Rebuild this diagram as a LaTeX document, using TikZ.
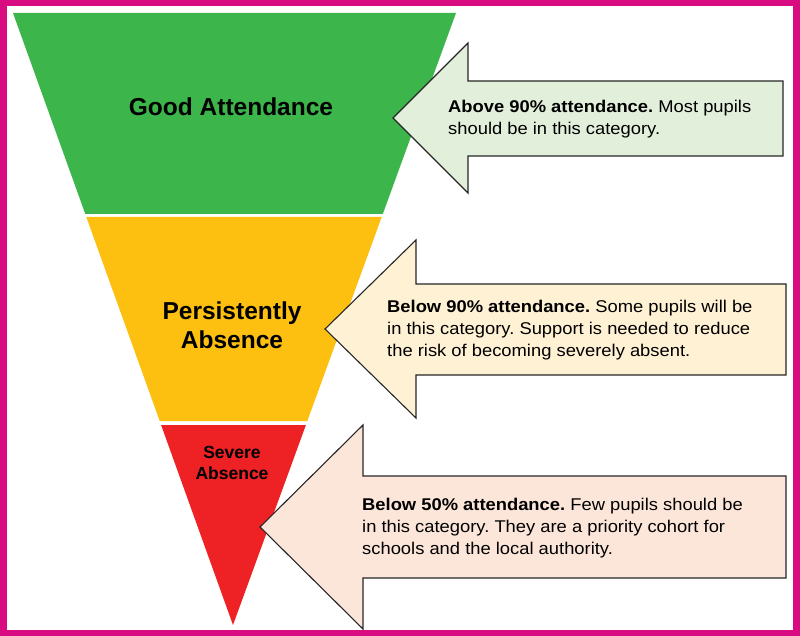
\documentclass[tikz,border=0pt]{standalone}
\usepackage{fontspec}
\setmainfont{Liberation Sans}
\newfontfamily\notefont[FakeStretch=1.08]{Liberation Sans}
\usepackage{tikz}
\pgfdeclarelayer{edgelayer}
\pgfdeclarelayer{nodelayer}
\pgfsetlayers{edgelayer,nodelayer,main}
\definecolor{framepink}{HTML}{D80B80}
\definecolor{goodgreen}{HTML}{3CB54A}
\definecolor{persistyellow}{HTML}{FDC010}
\definecolor{severered}{HTML}{EE2124}
\definecolor{greenpale}{HTML}{E2EFDA}
\definecolor{yellowpale}{HTML}{FFF1D4}
\definecolor{redpale}{HTML}{FCE6DA}
\tikzstyle{none}=[inner sep=0pt]
\tikzstyle{band}=[draw=none]
\tikzstyle{callout}=[draw=black!85, line width=1.1pt, line join=miter]
\tikzstyle{title}=[inner sep=0pt, align=center, font=\bfseries\fontsize{24.5}{29}\selectfont]
\tikzstyle{subtitle}=[inner sep=0pt, align=center, font=\bfseries\fontsize{17.5}{21}\selectfont]
\tikzstyle{note}=[inner sep=0pt, align=left, anchor=west, font=\notefont\frenchspacing\fontsize{17}{22}\selectfont]
\begin{document}
\begin{tikzpicture}[x=1pt, y=-1pt]
	\useasboundingbox (0, 0) rectangle (800, 636);
	\begin{pgfonlayer}{nodelayer}
		\node [style=title] (0) at (231, 107) {Good Attendance};
		\node [style=title] (1) at (232, 325) {Persistently\\Absence};
		\node [style=subtitle] (2) at (232, 463) {Severe\\Absence};
		\node [style=note] (3) at (448, 119) {\textbf{Above 90\% attendance.} Most pupils\\should be in this category.};
		\node [style=note] (4) at (387, 330) {\textbf{Below 90\% attendance.} Some pupils will be\\in this category. Support is needed to reduce\\the risk of becoming severely absent.};
		\node [style=note] (5) at (362, 528) {\textbf{Below 50\% attendance.} Few pupils should be\\in this category. They are a priority cohort for\\schools and the local authority.};
	\end{pgfonlayer}
	\begin{pgfonlayer}{edgelayer}
		% frame
		\fill [framepink] (0, 0) rectangle (800, 636);
		\fill [white] (7, 6) rectangle (793, 630);
		% funnel
		\fill [style=band, goodgreen] (13, 13) -- (456, 13) -- (382.8, 214) -- (85.3, 214) -- cycle;
		\fill [style=band, persistyellow] (86.3, 217) -- (381.7, 217) -- (307.3, 421) -- (159.7, 421) -- cycle;
		\fill [style=band, severered] (161.1, 425) -- (305.9, 425) -- (233, 625) -- cycle;
		% arrows
		\draw [style=callout, fill=greenpale] (393, 118) -- (468, 43) -- (468, 81) -- (783, 81) -- (783, 156) -- (468, 156) -- (468, 193) -- cycle;
		\draw [style=callout, fill=yellowpale] (325, 329) -- (416, 240) -- (416, 284) -- (786, 284) -- (786, 375) -- (416, 375) -- (416, 418) -- cycle;
		\draw [style=callout, fill=redpale] (260, 527) -- (363, 425) -- (363, 476) -- (786, 476) -- (786, 578) -- (363, 578) -- (363, 629) -- cycle;
	\end{pgfonlayer}
\end{tikzpicture}
\end{document}
